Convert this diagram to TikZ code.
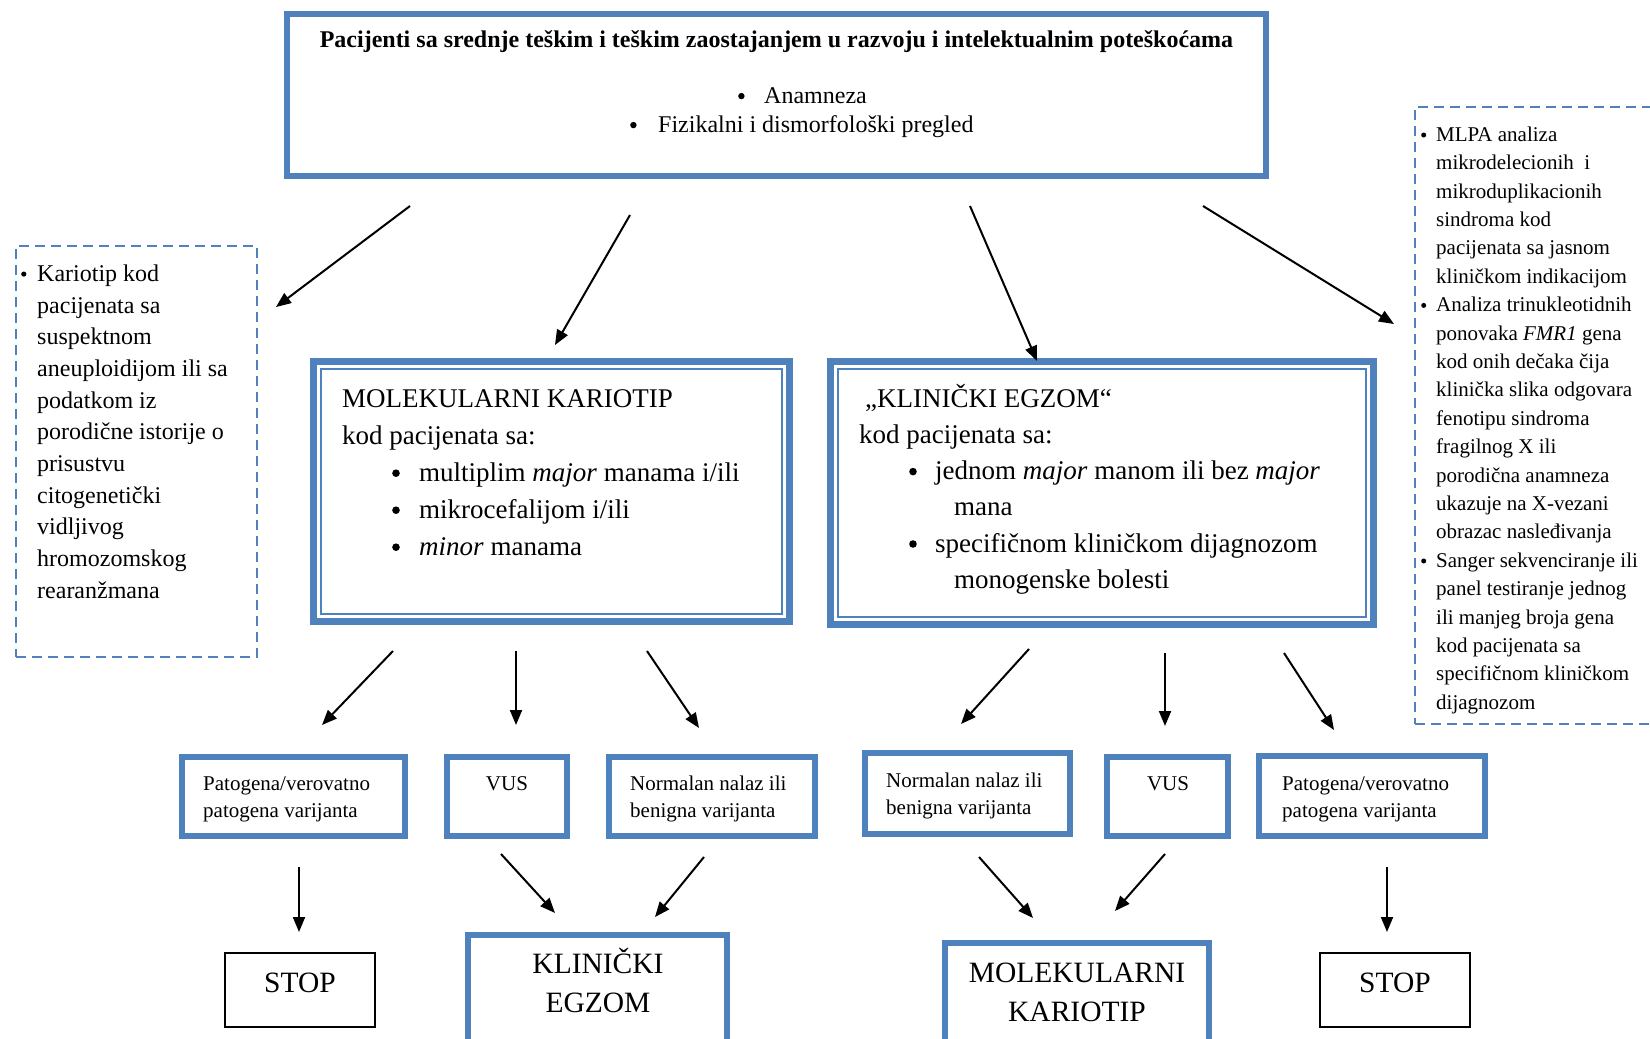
\documentclass[tikz,border=0pt]{standalone}
\usepackage{fontspec}
\setmainfont{Liberation Serif}
\usetikzlibrary{arrows.meta}
\definecolor{boxblue}{HTML}{4F81BD}
% bullet dot: #1 = radius (pt), #2 = box width
\newcommand{\bul}[2]{\makebox[#2][l]{\tikz[baseline=0pt,x=1pt,y=1pt]\fill (#1,0.3em) circle[radius=#1];}}
\begin{document}
\begin{tikzpicture}[x=1pt,y=-1pt]
\tikzset{
 thickbox/.style={draw=boxblue, line width=6pt, inner sep=0pt},
 outerbox/.style={draw=boxblue, line width=7pt, inner sep=0pt},
 innerline/.style={draw=boxblue, line width=2pt, inner sep=0pt},
 dashbox/.style={draw=boxblue, line width=2.5pt, dash pattern=on 10pt off 6pt, inner sep=0pt},
 stopbox/.style={draw=black, line width=1.6pt, inner sep=0pt},
 arr/.style={line width=2pt, -{Triangle[length=15pt,width=12pt]}},
 txt/.style={inner sep=0pt, align=left},
 ctxt/.style={inner sep=0pt, align=center},
}
\useasboundingbox (0,0) rectangle (1650,1039);
\clip (0,0) rectangle (1650,1039);
\fill[white] (0,0) rectangle (1650,1039);

% boxes
\node[thickbox, minimum width=979pt, minimum height=162.5pt] (top) at (776.5,94.75) {};
\node[outerbox, minimum width=476pt, minimum height=260pt] (mk) at (551.5,491.5) {};
\node[innerline, minimum width=461pt, minimum height=245pt] (mkin) at (551.5,491.5) {};
\node[outerbox, minimum width=543pt, minimum height=263pt] (ke) at (1102,493) {};
\node[innerline, minimum width=528pt, minimum height=248pt] (kein) at (1102,493) {};
\node[dashbox, minimum width=241pt, minimum height=411pt] (left) at (136.5,451.5) {};
\node[dashbox, minimum width=250pt, minimum height=617pt] (right) at (1540,415.5) {};

\node[thickbox, minimum width=223pt, minimum height=79pt] (b1) at (293.5,796.5) {};
\node[thickbox, minimum width=120pt, minimum height=79pt] (b2) at (507,796.5) {};
\node[thickbox, minimum width=206pt, minimum height=79pt] (b3) at (712,796.5) {};
\node[thickbox, minimum width=205pt, minimum height=81pt] (b4) at (967.5,793.5) {};
\node[thickbox, minimum width=121pt, minimum height=79pt] (b5) at (1167.5,796.5) {};
\node[thickbox, minimum width=226pt, minimum height=80pt] (b6) at (1372,796) {};

\node[stopbox, minimum width=150pt, minimum height=74pt] (s1) at (300,990) {};
\node[thickbox, minimum width=259pt, minimum height=135pt] (ke2) at (597.5,1002.5) {};
\node[thickbox, minimum width=264pt, minimum height=127pt] (mk2) at (1077,1006.5) {};
\node[stopbox, minimum width=150pt, minimum height=74pt] (s2) at (1395,990) {};

% texts (multi-line nodes are anchored at their last line)
\node[txt, anchor=mid, font=\bfseries\fontsize{24}{28}\selectfont] (title) at (776.5,45)
 {Pacijenti sa srednje teškim i teškim zaostajanjem u razvoju i intelektualnim poteškoćama};
\node[txt, anchor=mid west, font=\fontsize{24}{28}\selectfont] (tb1) at (738,101) {\bul{3.2}{26pt}Anamneza};
\node[txt, anchor=mid west, font=\fontsize{24}{28}\selectfont] (tb2) at (630,130) {\bul{3.2}{28pt}Fizikalni i dismorfološki pregled};

\node[txt, anchor=mid west, font=\fontsize{24}{31.7}\selectfont] (ltext) at (37,596)
 {\llap{\bul{2.6}{16pt}}Kariotip kod\\ pacijenata sa\\ suspektnom\\ aneuploidijom ili sa\\ podatkom iz\\ porodične istorije o\\ prisustvu\\ citogenetički\\ vidljivog\\ hromozomskog\\ rearanžmana};

\node[txt, anchor=mid west, font=\fontsize{21}{28.4}\selectfont] (rtext) at (1436,707)
 {\llap{\bul{2.5}{15pt}}MLPA analiza\\ mikrodelecionih\ \ i\\ mikroduplikacionih\\ sindroma kod\\ pacijenata sa jasnom\\ kliničkom indikacijom\\
  \llap{\bul{2.5}{15pt}}Analiza trinukleotidnih\\ ponovaka \textit{FMR1} gena\\ kod onih dečaka čija\\ klinička slika odgovara\\ fenotipu sindroma\\ fragilnog X ili\\ porodična anamneza\\ ukazuje na X-vezani\\ obrazac nasleđivanja\\
  \llap{\bul{2.5}{15pt}}Sanger sekvenciranje ili\\ panel testiranje jednog\\ ili manjeg broja gena\\ kod pacijenata sa\\ specifičnom kliničkom\\ dijagnozom};

\node[txt, anchor=mid west, font=\fontsize{27}{37}\selectfont] (mktext) at (342,553)
 {MOLEKULARNI KARIOTIP\\ kod pacijenata sa:\\
  \hspace*{50pt}\bul{3.8}{27pt}multiplim \textit{major} manama i/ili\\
  \hspace*{50pt}\bul{3.8}{27pt}mikrocefalijom i/ili\\
  \hspace*{50pt}\bul{3.8}{27pt}\textit{minor} manama};

\node[txt, anchor=mid west, font=\fontsize{27}{36.2}\selectfont] (ketext) at (859,586)
 {\hspace*{6pt}„KLINIČKI EGZOM“\\ kod pacijenata sa:\\
  \hspace*{50pt}\bul{3.8}{26pt}jednom \textit{major} manom ili bez \textit{major}\\
  \hspace*{95pt}mana\\
  \hspace*{50pt}\bul{3.8}{26pt}specifičnom kliničkom dijagnozom\\
  \hspace*{95pt}monogenske bolesti};

\node[txt, anchor=mid west, font=\fontsize{21}{27}\selectfont] (t1) at (203,815) {Patogena/verovatno\\ patogena varijanta};
\node[ctxt, anchor=mid, font=\fontsize{21}{27}\selectfont] (t2) at (507,788) {VUS};
\node[txt, anchor=mid west, font=\fontsize{21}{27}\selectfont] (t3) at (630,815) {Normalan nalaz ili\\ benigna varijanta};
\node[txt, anchor=mid west, font=\fontsize{21}{27}\selectfont] (t4) at (886,812) {Normalan nalaz ili\\ benigna varijanta};
\node[ctxt, anchor=mid, font=\fontsize{21}{27}\selectfont] (t5) at (1168,788) {VUS};
\node[txt, anchor=mid west, font=\fontsize{21}{27}\selectfont] (t6) at (1282,815) {Patogena/verovatno\\ patogena varijanta};

\node[ctxt, anchor=mid, font=\fontsize{29.5}{39}\selectfont] (st1) at (300,990) {STOP};
\node[ctxt, anchor=mid, font=\fontsize{29.5}{39}\selectfont] (ke2t) at (598,1010) {KLINIČKI\\ EGZOM};
\node[ctxt, anchor=mid, font=\fontsize{29.5}{39}\selectfont] (mk2t) at (1077,1019) {MOLEKULARNI\\ KARIOTIP};
\node[ctxt, anchor=mid, font=\fontsize{29.5}{39}\selectfont] (st2) at (1395,990) {STOP};

% arrow end points
\coordinate (a1s) at (410,206); \coordinate (a1e) at (276,307);
\coordinate (a2s) at (630,215); \coordinate (a2e) at (555,345);
\coordinate (a3s) at (970,206); \coordinate (a3e) at (1037,361);
\coordinate (a4s) at (1203,206); \coordinate (a4e) at (1394,324);
\coordinate (b1s) at (393,651); \coordinate (b1e) at (322,725);
\coordinate (b2s) at (516,651); \coordinate (b2e) at (516,725);
\coordinate (b3s) at (647,651); \coordinate (b3e) at (699,728);
\coordinate (b4s) at (1029,649); \coordinate (b4e) at (961,724);
\coordinate (b5s) at (1165,653); \coordinate (b5e) at (1165,726);
\coordinate (b6s) at (1284,653); \coordinate (b6e) at (1334,730);
\coordinate (c1s) at (299,867); \coordinate (c1e) at (299,932);
\coordinate (c2s) at (501,854); \coordinate (c2e) at (555,913);
\coordinate (c3s) at (704,857); \coordinate (c3e) at (655,917);
\coordinate (c4s) at (979,857); \coordinate (c4e) at (1033,918);
\coordinate (c5s) at (1165,854); \coordinate (c5e) at (1115,911);
\coordinate (c6s) at (1387,867); \coordinate (c6e) at (1387,932);

\foreach \a in {a1,a2,a3,a4,b1,b2,b3,b4,b5,b6,c1,c2,c3,c4,c5,c6}
  \draw[arr] (\a s) -- (\a e);
\end{tikzpicture}
\end{document}
